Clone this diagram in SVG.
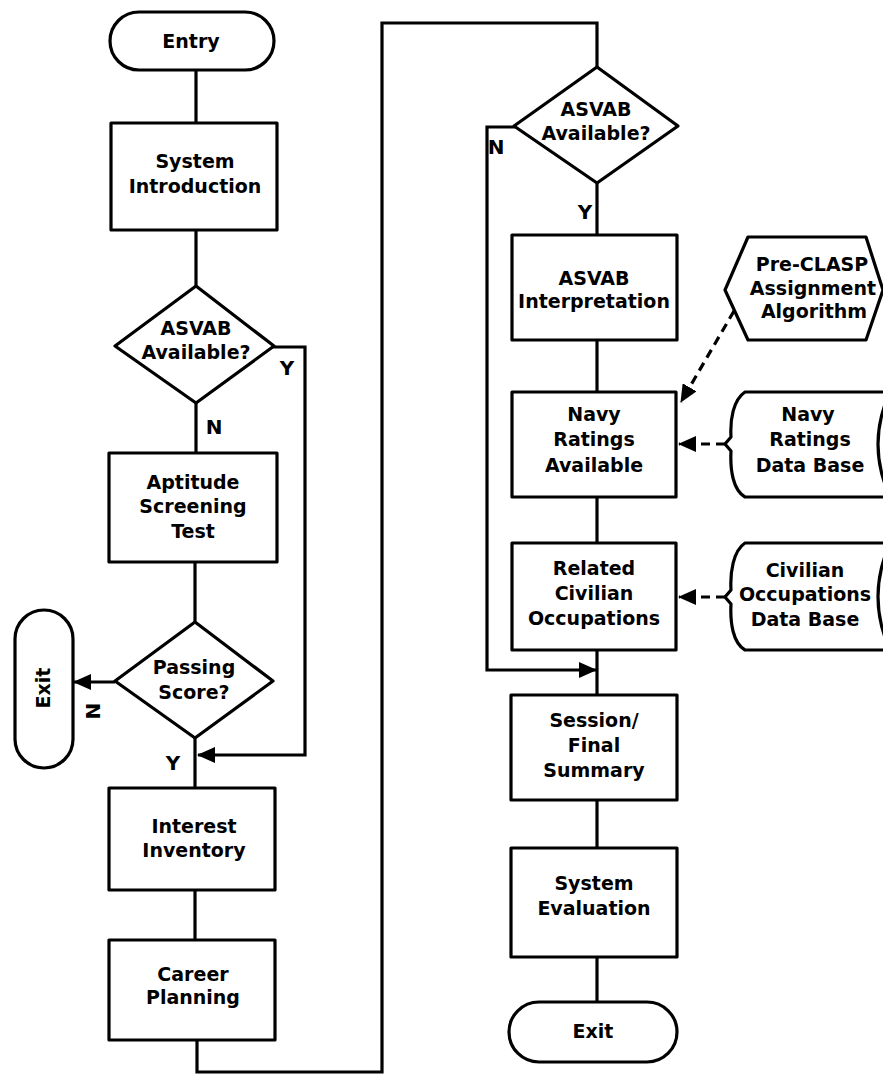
<svg xmlns="http://www.w3.org/2000/svg" width="883" height="1078" viewBox="0 0 883 1078">
<style>
.n{fill:#fff;stroke:#000;stroke-width:3.2;stroke-linejoin:round}
.c{fill:none;stroke:#000;stroke-width:3.2}
.d{fill:none;stroke:#000;stroke-width:3.2;stroke-dasharray:9 6}
.t{font-family:"DejaVu Sans","Liberation Sans",sans-serif;font-weight:bold;font-size:19px;text-anchor:middle;fill:#000}
.l{font-family:"DejaVu Sans","Liberation Sans",sans-serif;font-weight:bold;font-size:20px;text-anchor:middle;fill:#000}
</style>
<defs>
<marker id="ah" viewBox="0 0 18 16" markerWidth="18" markerHeight="16" refX="17" refY="8" orient="auto" markerUnits="userSpaceOnUse">
<path d="M0,0 L18,8 L0,16 z" fill="#000"/>
</marker>
</defs>
<rect width="883" height="1078" fill="#fff"/>
<g id="connectors">
<path class="c" d="M196,70 V123"/>
<path class="c" d="M196,230 V286"/>
<path class="c" d="M196,403 V453"/>
<path class="c" d="M195,562 V622"/>
<path class="c" d="M195,738 V788"/>
<path class="c" d="M195,890 V940"/>
<path class="c" d="M273,347 H305 V755 H198" marker-end="url(#ah)"/>
<path class="c" d="M115,682 H74" marker-end="url(#ah)"/>
<path class="c" d="M197,1040 V1072 H382 V23 H597 V67"/>
<path class="c" d="M597,183 V235"/>
<path class="c" d="M597,340 V392"/>
<path class="c" d="M597,497 V543"/>
<path class="c" d="M597,650 V695"/>
<path class="c" d="M597,800 V848"/>
<path class="c" d="M597,957 V1002"/>
<path class="c" d="M515,127 H487 V670 H596" marker-end="url(#ah)"/>
<path class="d" d="M734,311 L681,402" marker-end="url(#ah)"/>
<path class="d" d="M725,444 H679" marker-end="url(#ah)"/>
<path class="d" d="M725,597 H679" marker-end="url(#ah)"/>
</g>
<g id="lbls">
<text class="l" x="287" y="375">Y</text>
<text class="l" x="214" y="434">N</text>
<text class="l" x="173" y="770">Y</text>
<text class="l" transform="translate(100,711) rotate(-90)">N</text>
<text class="l" x="496" y="154">N</text>
<text class="l" x="585" y="219">Y</text>
</g>
<g id="entry">
<rect class="n" x="110" y="12" width="164" height="58" rx="29"/>
<text class="t" x="191" y="48">Entry</text>
</g>
<g id="sysintro">
<rect class="n" x="111" y="123" width="166" height="107"/>
<text class="t" x="195" y="168">System</text>
<text class="t" x="195" y="193">Introduction</text>
</g>
<g id="asvab1">
<path class="n" d="M196,286 L274,346 L196,403 L115,346 Z"/>
<text class="t" x="196" y="335">ASVAB</text>
<text class="t" x="196" y="359">Available?</text>
</g>
<g id="aptitude">
<rect class="n" x="109" y="453" width="168" height="109"/>
<text class="t" x="193" y="489">Aptitude</text>
<text class="t" x="193" y="513">Screening</text>
<text class="t" x="193" y="538">Test</text>
</g>
<g id="passing">
<path class="n" d="M195,622 L273,681 L195,738 L115,681 Z"/>
<text class="t" x="194" y="674">Passing</text>
<text class="t" x="194" y="699">Score?</text>
</g>
<g id="exit1">
<rect class="n" x="15" y="610" width="58" height="158" rx="29"/>
<text class="t" transform="translate(50,688) rotate(-90)">Exit</text>
</g>
<g id="interest">
<rect class="n" x="109" y="788" width="166" height="102"/>
<text class="t" x="194" y="833">Interest</text>
<text class="t" x="194" y="857">Inventory</text>
</g>
<g id="career">
<rect class="n" x="109" y="940" width="166" height="100"/>
<text class="t" x="193" y="981">Career</text>
<text class="t" x="193" y="1004">Planning</text>
</g>
<g id="asvab2">
<path class="n" d="M597,67 L678,126 L597,183 L514,126 Z"/>
<text class="t" x="596" y="116">ASVAB</text>
<text class="t" x="596" y="140">Available?</text>
</g>
<g id="interp">
<rect class="n" x="512" y="235" width="165" height="105"/>
<text class="t" x="594" y="285">ASVAB</text>
<text class="t" x="594" y="308">Interpretation</text>
</g>
<g id="preclasp">
<path class="n" d="M725,290 L748,237 L866,237 L883,290 L866,340 L748,340 Z"/>
<text class="t" x="812" y="271">Pre-CLASP</text>
<text class="t" x="813" y="295">Assignment</text>
<text class="t" x="814" y="318">Algorithm</text>
</g>
<g id="navy">
<rect class="n" x="512" y="392" width="164" height="105"/>
<text class="t" x="594" y="421">Navy</text>
<text class="t" x="594" y="446">Ratings</text>
<text class="t" x="594" y="472">Available</text>
</g>
<g id="navydb">
<path class="n" d="M745,392 L890,392 Q866,444 890,497 L745,497 C733,490 730,470 731,451 L725,444 L731,437 C730,420 733,400 745,392 Z"/>
<text class="t" x="808" y="421">Navy</text>
<text class="t" x="810" y="446">Ratings</text>
<text class="t" x="810" y="472">Data Base</text>
</g>
<g id="related">
<rect class="n" x="512" y="543" width="164" height="107"/>
<text class="t" x="594" y="575">Related</text>
<text class="t" x="594" y="600">Civilian</text>
<text class="t" x="594" y="625">Occupations</text>
</g>
<g id="civdb">
<path class="n" d="M745,543 L890,543 Q866,597 890,650 L745,650 C733,643 730,623 731,604 L725,597 L731,590 C730,573 733,551 745,543 Z"/>
<text class="t" x="805" y="577">Civilian</text>
<text class="t" x="805" y="601">Occupations</text>
<text class="t" x="805" y="626">Data Base</text>
</g>
<g id="session">
<rect class="n" x="511" y="695" width="166" height="105"/>
<text class="t" x="594" y="727">Session/</text>
<text class="t" x="594" y="752">Final</text>
<text class="t" x="594" y="777">Summary</text>
</g>
<g id="eval">
<rect class="n" x="511" y="848" width="166" height="109"/>
<text class="t" x="594" y="890">System</text>
<text class="t" x="594" y="915">Evaluation</text>
</g>
<g id="exit2">
<rect class="n" x="509" y="1002" width="168" height="60" rx="30"/>
<text class="t" x="593" y="1038">Exit</text>
</g>
</svg>
